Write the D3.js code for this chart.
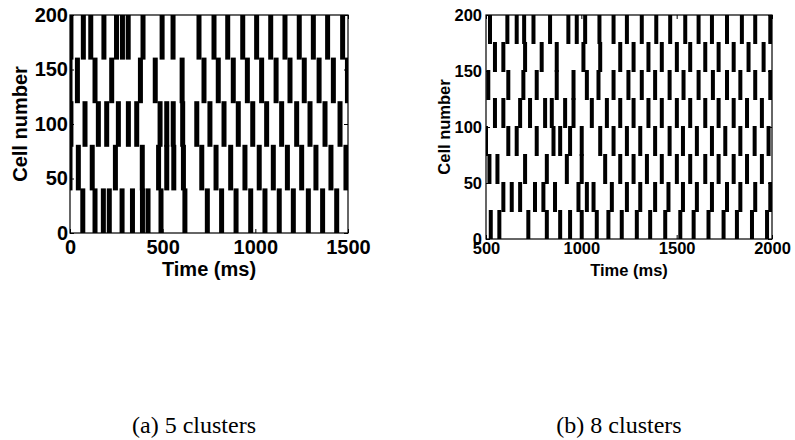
<!DOCTYPE html>
<html>
<head>
<meta charset="utf-8">
<script src="https://cdn.jsdelivr.net/npm/d3@7"></script>
<style>
body { margin: 0; background: #fff; }
</style>
</head>
<body>
<div id="chart"></div>
<script>
// spike times (ms) per cluster, bottom cluster first

// (a) 5 clusters, 40 cells each
var spikesA = [
	[69, 135, 180, 212, 281, 337, 391, 421, 491, 620, 741, 818, 896, 975, 1052, 1129, 1205, 1286, 1363, 1439],
	[0, 45, 120, 245, 390, 478, 522, 560, 612, 711, 788, 867, 944, 1021, 1097, 1173, 1250, 1327, 1408, 1489],
	[5, 81, 153, 198, 261, 315, 360, 486, 522, 557, 608, 684, 755, 831, 908, 986, 1061, 1142, 1223, 1295, 1376, 1457],
	[0, 40, 135, 225, 380, 460, 605, 723, 800, 881, 957, 1034, 1112, 1187, 1264, 1344, 1421, 1497],
	[5, 72, 112, 183, 251, 283, 314, 394, 497, 556, 696, 777, 851, 932, 1007, 1083, 1160, 1237, 1313, 1390, 1471]
]

// (b) 8 clusters, 25 cells each
var spikesB = [
	[525, 570, 722, 819, 889, 941, 1002, 1081, 1142, 1212, 1291, 1361, 1440, 1519, 1589, 1667, 1746, 1816, 1895, 1974],
	[591, 635, 679, 757, 801, 862, 985, 1029, 1064, 1160, 1239, 1309, 1387, 1457, 1533, 1606, 1685, 1764, 1834, 1912, 1991],
	[518, 560, 705, 819, 924, 1002, 1125, 1204, 1274, 1344, 1422, 1501, 1571, 1650, 1720, 1799, 1869, 1947],
	[500, 617, 661, 766, 854, 889, 941, 1002, 1099, 1169, 1239, 1309, 1387, 1463, 1533, 1606, 1685, 1755, 1834, 1909, 1982],
	[547, 591, 679, 731, 810, 845, 915, 959, 1055, 1134, 1204, 1274, 1352, 1422, 1501, 1571, 1650, 1720, 1799, 1869, 1947],
	[512, 617, 696, 766, 871, 959, 1029, 1090, 1169, 1247, 1317, 1387, 1463, 1536, 1615, 1690, 1764, 1834, 1912, 1991],
	[547, 591, 705, 792, 871, 1011, 1099, 1204, 1274, 1352, 1422, 1501, 1571, 1650, 1720, 1799, 1877, 1956],
	[521, 612, 661, 700, 749, 836, 932, 976, 1020, 1095, 1169, 1239, 1317, 1393, 1466, 1545, 1615, 1685, 1764, 1842, 1912, 1991]
]

var xTicksA = [0, 500, 1000, 1500]
var xTicksB = [500, 1000, 1500, 2000]
var yTicks = [0, 50, 100, 150, 200]
var captions = ["(a) 5 clusters", "(b) 8 clusters"]

var w = 795, h = 440
var font = "'Liberation Sans', Arial, sans-serif"

var svg = d3.select("#chart")
	.append("svg")
	.attr("width", w)
	.attr("height", h)

// one raster panel
function raster(o) {
	var x = d3.scaleLinear().domain(o.xDomain).range(o.xRange)
	var y = d3.scaleLinear().domain([0, 200]).range(o.yRange)
	var g = svg.append("g")
	var cells = 200 / o.spikes.length

	// flatten to one record per cluster burst
	var bars = []
	o.spikes.forEach(function(times, i) {
		times.forEach(function(t) { bars.push({t: t, lo: i * cells, hi: (i + 1) * cells}) })
	})

	g.selectAll(".bar")
		.data(bars)
		.enter()
		.append("rect")
		.attr("class", "bar")
		.attr("x", function(d) { return Math.max(o.xRange[0], x(d.t) - o.barW / 2) })
		.attr("width", function(d) {
			var x0 = Math.max(o.xRange[0], x(d.t) - o.barW / 2)
			var x1 = Math.min(o.xRange[1], x(d.t) + o.barW / 2)
			return x1 - x0
		})
		.attr("y", function(d) { return y(d.hi) - (d.hi < 200 ? 1 : 0) })
		.attr("height", function(d) { return y(d.lo) - y(d.hi) + (d.hi < 200 ? 1 : 0) + (d.lo > 0 ? 1 : 0) })
		.style("fill", "#000")

	// axes, ticks pointing inside
	var fmt = d3.format("d")
	g.append("g")
		.attr("transform", "translate(0," + o.yRange[0] + ")")
		.call(d3.axisBottom(x).tickValues(o.xTicks).tickSize(-4).tickSizeOuter(0).tickPadding(o.xPad).tickFormat(fmt))
	g.append("g")
		.attr("transform", "translate(" + o.xRange[0] + ",0)")
		.call(d3.axisLeft(y).tickValues(yTicks).tickSize(-4).tickSizeOuter(0).tickPadding(o.yPad).tickFormat(fmt))
	g.append("g")
		.attr("transform", "translate(0," + o.yRange[1] + ")")
		.call(d3.axisTop(x).tickValues(o.xTicks).tickSize(-4).tickSizeOuter(0).tickFormat(""))
	g.append("g")
		.attr("transform", "translate(" + o.xRange[1] + ",0)")
		.call(d3.axisRight(y).tickValues(yTicks).tickSize(-4).tickSizeOuter(0).tickFormat(""))

	g.selectAll(".domain").remove()
	g.selectAll(".tick line").attr("stroke", "#000")
	g.selectAll(".tick text")
		.style("font-family", font)
		.style("font-weight", "bold")
		.style("font-size", o.fs + "px")
		.attr("fill", "#000")

	// frame
	g.append("rect")
		.attr("x", o.xRange[0])
		.attr("y", o.yRange[1])
		.attr("width", o.xRange[1] - o.xRange[0])
		.attr("height", o.yRange[0] - o.yRange[1])
		.style("fill", "none")
		.style("stroke", "#000")
		.style("stroke-width", 1.2)

	g.append("text")
		.attr("x", (o.xRange[0] + o.xRange[1]) / 2)
		.attr("y", o.xTitleY)
		.attr("text-anchor", "middle")
		.style("font-family", font)
		.style("font-weight", "bold")
		.style("font-size", o.fs + "px")
		.text("Time (ms)")

	g.append("text")
		.attr("transform", "translate(" + o.yTitleX + "," + (o.yRange[0] + o.yRange[1]) / 2 + ") rotate(-90)")
		.attr("text-anchor", "middle")
		.style("font-family", font)
		.style("font-weight", "bold")
		.style("font-size", o.fs + "px")
		.text("Cell number")

	g.append("text")
		.attr("x", o.capX)
		.attr("y", 433)
		.attr("text-anchor", "middle")
		.style("font-family", "'Liberation Serif', 'DejaVu Serif', serif")
		.style("font-size", "24px")
		.text(o.caption)
}

raster({
	spikes: spikesA, xDomain: [0, 1500], xRange: [70, 348], yRange: [233, 15],
	xTicks: xTicksA, fs: 20, barW: 5, xPad: 7, yPad: 2,
	xTitleY: 276, yTitleX: 26.5, capX: 194, caption: captions[0]
})

raster({
	spikes: spikesB, xDomain: [500, 2000], xRange: [486, 772], yRange: [239, 15],
	xTicks: xTicksB, fs: 16.5, barW: 4, xPad: 3, yPad: 4,
	xTitleY: 276, yTitleX: 450, capX: 619, caption: captions[1]
})
</script>
</body>
</html>
